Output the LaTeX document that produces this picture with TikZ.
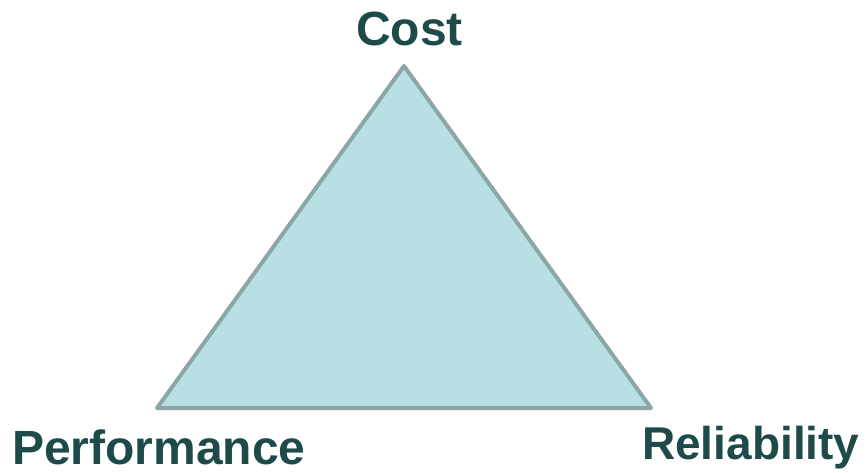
\documentclass[tikz,border=0pt]{standalone}
\usepackage{fontspec}
\setmainfont{Liberation Sans}
\definecolor{labelteal}{HTML}{1E4A4A}
\definecolor{trifill}{HTML}{B8E0E4}
\definecolor{triedge}{HTML}{8CA5A5}
\begin{document}
\begin{tikzpicture}[x=1pt,y=-1pt,
  label/.style={text=labelteal,font=\fontsize{48}{52}\selectfont\bfseries,inner sep=0pt},
  tri/.style={fill=trifill,draw=triedge,line width=4pt,line join=round}]
\useasboundingbox (0,0) rectangle (868,473);
\coordinate (top) at (404,66);
\coordinate (bl) at (157,408);
\coordinate (br) at (651,408);
\draw[tri] (top) -- (br) -- (bl) -- cycle;
\node[label,anchor=base] (cost) at (409.5,46) {Cost};
\node[label,anchor=base west] (perf) at (12,464) {Performance};
\node[label,anchor=base west,font=\fontsize{46}{50}\selectfont\bfseries] (rel) at (642,459) {Reliability};
\end{tikzpicture}
\end{document}
